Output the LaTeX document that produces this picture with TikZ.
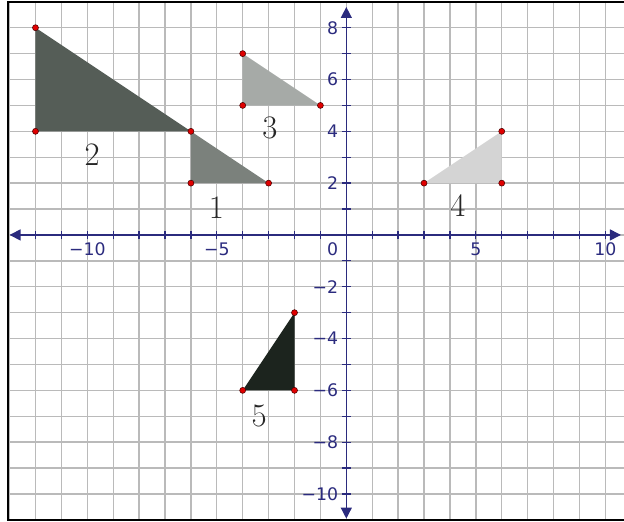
\documentclass[tikz,border=0pt]{standalone}
\usepackage{fontspec}
\newfontfamily\ticksfont{DejaVu Sans}
\usetikzlibrary{arrows.meta}
\definecolor{axisblue}{HTML}{2B2B7E}
\definecolor{gridgray}{HTML}{BABABA}
\definecolor{tone1}{HTML}{7B817C}
\definecolor{tone2}{HTML}{555D57}
\definecolor{tone3}{HTML}{A6AAA7}
\definecolor{tone4}{HTML}{D4D4D4}
\definecolor{tone5}{HTML}{1C241E}
\definecolor{dotred}{HTML}{E00000}
\tikzset{
  gridline/.style={gridgray, line width=0.75pt},
  axisline/.style={axisblue, line width=0.8pt, {Triangle[length=6pt,width=6pt]}-{Triangle[length=6pt,width=6pt]}},
  ticklab/.style={text=axisblue, font=\ticksfont\fontsize{9.5}{10}\selectfont, inner sep=0pt},
  trilab/.style={font=\fontsize{18}{20}\selectfont, inner sep=0pt, text=black!85},
  vdot/.style={circle, fill=dotred, draw=black!70!red, line width=0.3pt, minimum size=3.3pt, inner sep=0pt},
}
\begin{document}
\begin{tikzpicture}[x=0.5cm,y=0.5cm]
\useasboundingbox (-13.37,-11.08) rectangle (10.72,9.07);
% grid
\foreach \i in {-13,...,10} \draw[gridline] (\i,-11) -- (\i,9.0);
\foreach \j in {-11,...,9} \draw[gridline] (-13.06,\j) -- (10.72,\j);
% frame (left, top, bottom)
\draw[black, line width=0.9pt] (10.72,9.0) -- (-13.06,9.0) -- (-13.06,-11.0) -- (10.72,-11.0);
% vertices
\coordinate (a1) at (-6,4); \coordinate (b1) at (-6,2); \coordinate (c1) at (-3,2);
\coordinate (a2) at (-12,8); \coordinate (b2) at (-12,4); \coordinate (c2) at (-6,4);
\coordinate (a3) at (-4,7); \coordinate (b3) at (-4,5); \coordinate (c3) at (-1,5);
\coordinate (a4) at (3,2); \coordinate (b4) at (6,2); \coordinate (c4) at (6,4);
\coordinate (a5) at (-4,-6); \coordinate (b5) at (-2,-6); \coordinate (c5) at (-2,-3);
% triangles
\fill[tone2] (a2) -- (b2) -- (c2) -- cycle;
\fill[tone1] (a1) -- (b1) -- (c1) -- cycle;
\fill[tone3] (a3) -- (b3) -- (c3) -- cycle;
\fill[tone4] (a4) -- (b4) -- (c4) -- cycle;
\fill[tone5] (a5) -- (b5) -- (c5) -- cycle;
% axes
\coordinate (xl) at (-13.0,0); \coordinate (xr) at (10.6,0);
\coordinate (yb) at (0,-10.95); \coordinate (yt) at (0,8.8);
\draw[axisline] (xl) -- (xr);
\draw[axisline] (yb) -- (yt);
\foreach \i in {-12,...,10} \draw[axisblue, line width=0.7pt] (\i,-0.17) -- (\i,0.17);
\foreach \j in {-10,...,8} \draw[axisblue, line width=0.7pt] (-0.17,\j) -- (0.17,\j);
% tick labels
\node[ticklab, anchor=north] (tx1) at (-10,-0.3) {−10};
\node[ticklab, anchor=north] (tx2) at (-5,-0.3) {−5};
\node[ticklab, anchor=north east] (tx3) at (-0.3,-0.3) {0};
\node[ticklab, anchor=north] (tx4) at (5,-0.3) {5};
\node[ticklab, anchor=north] (tx5) at (10,-0.3) {10};
\foreach \j/\t in {8/8,6/6,4/4,2/2,-2/−2,-4/−4,-6/−6,-8/−8,-10/−10}
  \node[ticklab, anchor=east] (ty\j) at (-0.3,\j) {\t};
% vertex dots
\foreach \p in {a1,b1,c1,a2,b2,a3,b3,c3,a4,b4,c4,a5,b5,c5}
  \node[vdot] (d\p) at (\p) {};
% labels
\node[trilab] (l1) at (-5.02,1.04) {1};
\node[trilab] (l2) at (-9.81,3.09) {2};
\node[trilab] (l3) at (-2.95,4.13) {3};
\node[trilab] (l4) at (4.31,1.14) {4};
\node[trilab] (l5) at (-3.37,-6.99) {5};
\end{tikzpicture}
\end{document}
